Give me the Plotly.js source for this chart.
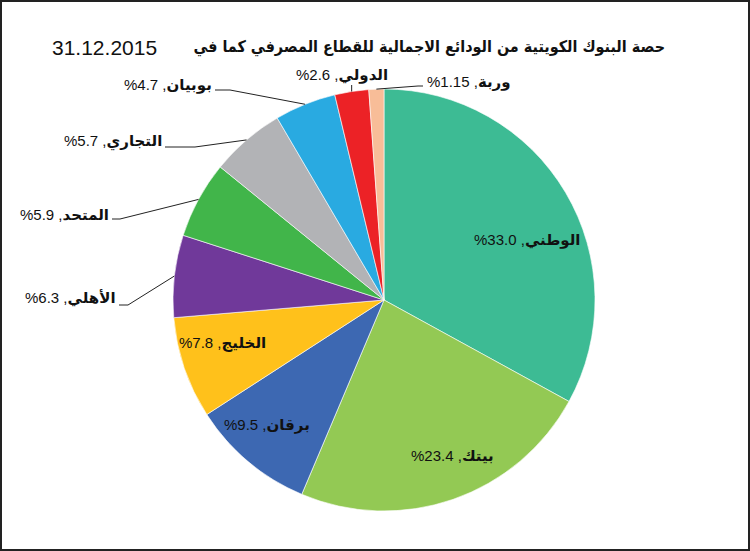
<!DOCTYPE html>
<html>
<head>
<meta charset="utf-8">
<script src="https://cdn.plot.ly/plotly-3.0.1.min.js"></script>
<style>
html,body{margin:0;padding:0;background:#fff;}
#wrap{position:relative;width:750px;height:551px;}
#chart{width:750px;height:551px;}
#frame{position:absolute;left:0;top:0;width:750px;height:551px;box-sizing:border-box;border:2px solid #222;pointer-events:none;}
</style>
</head>
<body>
<div id="wrap"><div id="chart"></div><div id="frame"></div></div>
<script>
// ---- data ----
const bankNames = ['الوطني','بيتك','برقان','الخليج','الأهلي','المتحد','التجاري','بوبيان','الدولي','وربة'];
const shares = [33.0, 23.4, 9.5, 7.8, 6.3, 5.9, 5.7, 4.7, 2.6, 1.15];
const shareLabels = ['33.0','23.4','9.5','7.8','6.3','5.9','5.7','4.7','2.6','1.15'];
const sliceColors = ['#3DBB94','#93C954','#3D68B2','#FFC11B','#70399A','#41B54A','#B2B3B6','#29AAE1','#EC2226','#F8BD98'];
const chartTitle = 'حصة البنوك الكويتية من الودائع الاجمالية للقطاع المصرفي كما في';
const chartDate = '31.12.2015';

// ---- layout geometry (pixels) ----
const W = 750, H = 551;
const CX = 384, CY = 300, R = 211;
const labelPlace = [
  {x:527, y:240, a:'center'},
  {x:452, y:455, a:'center'},
  {x:267, y:425, a:'center'},
  {x:222, y:343, a:'center'},
  {x:118, y:298, a:'right', ly:305, ex:128},
  {x:111, y:214, a:'right', ly:219, ex:120},
  {x:164, y:141, a:'right', ly:147, ex:195},
  {x:214, y:85,  a:'right', ly:90,  ex:230},
  {x:342, y:75,  a:'center', ly:85, ex:null, vertical:true},
  {x:425, y:82,  a:'left',  ly:86,  ex:418}
];

const px = v => v / W;
const py = v => 1 - v / H;
const FONT = 'Liberation Sans, DejaVu Sans, sans-serif';

const total = shares.reduce((s, v) => s + v, 0);
let cum = 0;
const annotations = [];
const shapes = [];
shares.forEach((v, i) => {
  const mid = 2 * Math.PI * (cum + v / 2) / total;
  cum += v;
  const ex = CX + R * Math.sin(mid);
  const ey = CY - R * Math.cos(mid);
  const p = labelPlace[i];
  annotations.push({
    x: px(p.x), y: py(p.y), xref: 'paper', yref: 'paper',
    xanchor: p.a, yanchor: 'middle', showarrow: false,
    text: '\u200F<b>' + bankNames[i] + '</b>, ' + shareLabels[i] + '%\u200F',
    font: {family: FONT, size: 15, color: '#111'}
  });
  if (p.ly !== undefined) {
    let path;
    if (p.vertical) {
      path = 'M ' + px(ex) + ' ' + py(p.ly) + ' L ' + px(ex) + ' ' + py(ey);
    } else {
      const sx = p.a === 'right' ? p.x + 1 : p.x - 2;
      path = 'M ' + px(sx) + ' ' + py(p.ly) + ' L ' + px(p.ex) + ' ' + py(p.ly) + ' L ' + px(ex) + ' ' + py(ey);
    }
    shapes.push({type: 'path', xref: 'paper', yref: 'paper', path: path,
      line: {color: '#222', width: 1}});
  }
});

// date part of the title
annotations.push({
  x: px(50), y: py(47), xref: 'paper', yref: 'paper',
  xanchor: 'left', yanchor: 'middle', showarrow: false,
  text: chartDate,
  font: {family: FONT, size: 21, color: '#111'}
});

const trace = {
  type: 'pie',
  labels: bankNames,
  values: shares,
  sort: false,
  direction: 'clockwise',
  rotation: 0,
  textinfo: 'none',
  hoverinfo: 'none',
  showlegend: false,
  marker: {colors: sliceColors, line: {color: '#ffffff', width: 0.6}},
  domain: {x: [(CX - R) / W, (CX + R) / W], y: [1 - (CY + R) / H, 1 - (CY - R) / H]}
};

const layout = {
  width: W, height: H,
  margin: {l: 0, r: 0, t: 0, b: 0},
  paper_bgcolor: '#ffffff',
  showlegend: false,
  title: {
    text: '\u200F<b>' + chartTitle + '</b>\u200F',
    xref: 'container', yref: 'container',
    x: 665 / W, xanchor: 'right', y: 1 - 46 / H, yanchor: 'middle',
    font: {family: 'DejaVu Sans Condensed, DejaVu Sans, sans-serif', size: 16, color: '#111'}
  },
  annotations: annotations,
  shapes: shapes
};

Plotly.newPlot('chart', [trace], layout, {staticPlot: true, displayModeBar: false});
</script>
</body>
</html>
